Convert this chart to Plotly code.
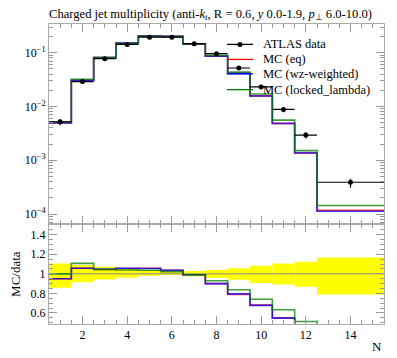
import plotly.graph_objects as go

# ---- data ----
edges = [0.5, 1.5, 2.5, 3.5, 4.5, 5.5, 6.5, 7.5, 8.5, 9.5, 10.5, 11.5, 12.5, 15.5]
centers = [1, 2, 3, 4, 5, 6, 7, 8, 9, 10, 11, 12, 14]
data = [0.0052, 0.029, 0.0774, 0.1426, 0.194, 0.194, 0.147, 0.0958, 0.0519, 0.0231, 0.0088, 0.00294, 0.00039]
band_up = [1.107, 1.09, 1.073, 1.057, 1.037, 1.023, 1.03, 1.04, 1.057, 1.083, 1.107, 1.123, 1.167]
band_lo = [0.857, 0.913, 0.943, 0.963, 0.98, 0.987, 0.976, 0.957, 0.94, 0.907, 0.89, 0.867, 0.79]
ratio_eq = [0.95, 1.057, 1.045, 1.055, 1.057, 1.037, 0.99, 0.90, 0.79, 0.68, 0.55, 0.46, 0.30]
ratio_wz = [0.95, 1.057, 1.05, 1.057, 1.055, 1.035, 0.99, 0.90, 0.795, 0.677, 0.547, 0.47, 0.29]
ratio_ll = [1.0, 1.107, 1.045, 1.04, 1.037, 1.023, 0.99, 0.93, 0.837, 0.74, 0.633, 0.513, 0.37]
mc_eq = [d * r for d, r in zip(data, ratio_eq)]
mc_wz = [d * r for d, r in zip(data, ratio_wz)]
mc_ll = [d * r for d, r in zip(data, ratio_ll)]
names = ["ATLAS data", "MC (eq)", "MC (wz-weighted)", "MC (locked_lambda)"]
colors = ["#ff0000", "#0000ff", "#008000"]

FONT = "Liberation Serif"

# page body has an 8px margin: compensate so the plot lands where the reference has it
OFF = 8
W, H = 397 - OFF, 358 - OFF
MAIN_DOM = [0.3324, 1]

xerr_plus = [e - c for e, c in zip(edges[1:], centers)]
xerr_minus = [c - e for e, c in zip(edges[:-1], centers)]
err_up = [d * (u - 1) for d, u in zip(data, band_up)]
err_lo = [d * (1 - l) for d, l in zip(data, band_lo)]

fig = go.Figure()

# ratio band
fig.add_trace(go.Bar(x=centers, y=[u - l for u, l in zip(band_up, band_lo)], base=band_lo,
                     width=[b - a for a, b in zip(edges[:-1], edges[1:])],
                     marker=dict(color="#ffff00", line=dict(width=0)),
                     showlegend=False, xaxis="x2", yaxis="y2", hoverinfo="skip"))
fig.add_trace(go.Scatter(x=[edges[0], edges[-1]], y=[1, 1], mode="lines",
                         line=dict(color="#888888", width=1), showlegend=False,
                         xaxis="x2", yaxis="y2"))

def step(vals):
    return list(vals) + [vals[-1]]

for mc, r, c in zip([mc_eq, mc_wz, mc_ll], [ratio_eq, ratio_wz, ratio_ll], colors):
    fig.add_trace(go.Scatter(x=edges, y=step(mc), mode="lines", line_shape="hv",
                             line=dict(color=c, width=1.6), opacity=0.75, showlegend=False,
                             xaxis="x", yaxis="y"))
    fig.add_trace(go.Scatter(x=edges, y=step(r), mode="lines", line_shape="hv",
                             line=dict(color=c, width=1.6), opacity=0.75, showlegend=False,
                             xaxis="x2", yaxis="y2"))

# data
fig.add_trace(go.Scatter(x=centers, y=data, mode="markers",
                         marker=dict(color="black", size=5),
                         error_x=dict(type="data", array=xerr_plus, arrayminus=xerr_minus,
                                      color="black", thickness=1.2, width=0),
                         error_y=dict(type="data", array=err_up, arrayminus=err_lo,
                                      color="black", thickness=1.2, width=0),
                         showlegend=False, xaxis="x", yaxis="y"))

# legend (built by hand for tight row spacing)
leg_x0, leg_x1, leg_tx = 0.531, 0.609, 0.633
leg_rows = [0.932, 0.882, 0.834, 0.781]
shapes = []
annotations = []
leg_colors = ["black"] + colors
for name, col, yy in zip(names, leg_colors, leg_rows):
    shapes.append(dict(type="line", xref="paper", yref="paper", x0=leg_x0, x1=leg_x1,
                       y0=yy, y1=yy, line=dict(color=col, width=1.3)))
    annotations.append(dict(text=name, x=leg_tx, y=yy, xref="paper", yref="paper",
                            xanchor="left", yanchor="middle", showarrow=False,
                            font=dict(family=FONT, size=12.5, color="black")))
# the data-marker dot of the legend, on a hidden axis that overlays the main panel
dot_y = (leg_rows[0] - MAIN_DOM[0]) / (MAIN_DOM[1] - MAIN_DOM[0])
fig.add_trace(go.Scatter(x=[(leg_x0 + leg_x1) / 2], y=[dot_y], mode="markers",
                         marker=dict(color="black", size=5), xaxis="x3", yaxis="y3",
                         showlegend=False, hoverinfo="skip"))

annotations.append(dict(text="N", x=1, xref="paper", xanchor="right", y=-0.075, yref="paper",
                        yanchor="middle", showarrow=False, font=dict(family=FONT, size=13)))

major_y = [1e-4, 1e-3, 1e-2, 1e-1]
major_y_text = ["10<sup>−4</sup>", "10<sup>−3</sup>", "10<sup>−2</sup>", "10<sup>−1</sup>"]
minor_y = [m * 10 ** e for e in range(-5, 0) for m in range(2, 10)]

axcol = "#aaaaaa"
tickcol = "#999999"
common_x = dict(range=[0.5, 15.5], dtick=2, tick0=0, ticks="inside", ticklen=8, tickcolor=tickcol,
                showline=True, linecolor=axcol, linewidth=1, mirror="allticks", showgrid=False,
                zeroline=False,
                minor=dict(dtick=0.5, tick0=0, ticks="inside", ticklen=4, tickcolor=tickcol, showgrid=False))

fig.update_layout(
    width=W, height=H,
    margin=dict(l=49 - OFF, r=13, t=23.5 - OFF, b=33.7, autoexpand=False),
    paper_bgcolor="white", plot_bgcolor="white",
    font=dict(family=FONT, size=12, color="black"),
    showlegend=False,
    barmode="overlay",
    title=dict(text="Charged jet multiplicity (anti-<i>k</i><sub><i>t</i></sub>, R = 0.6, <i>y</i> 0.0-1.9, <i>p</i><sub>⊥</sub> 6.0-10.0)",
               x=0, xref="paper", xanchor="left", y=1, yref="container", yanchor="top",
               pad=dict(t=1), font=dict(family=FONT, size=12.6)),
    xaxis=dict(common_x, anchor="y", showticklabels=False, matches="x2"),
    xaxis2=dict(common_x, anchor="y2", showticklabels=True, tickfont=dict(size=12)),
    xaxis3=dict(range=[0, 1], visible=False, anchor="y3", overlaying="x"),
    yaxis3=dict(range=[0, 1], visible=False, anchor="x3", overlaying="y"),
    yaxis=dict(type="log", domain=MAIN_DOM, range=[-4.19, -0.467], anchor="x",
               tickvals=major_y, ticktext=major_y_text, ticks="inside", ticklen=8, tickcolor=tickcol,
               showline=True, linecolor=axcol, mirror="allticks", showgrid=False, zeroline=False,
               tickfont=dict(size=12),
               minor=dict(tickvals=minor_y, ticks="inside", ticklen=4, tickcolor=tickcol, showgrid=False)),
    yaxis2=dict(domain=[0, MAIN_DOM[0]], range=[0.487, 1.507], anchor="x2",
                tickvals=[0.6, 0.8, 1.0, 1.2, 1.4], ticktext=["0.6", "0.8", "1", "1.2", "1.4"],
                ticks="inside", ticklen=8, tickcolor=tickcol,
                showline=True, linecolor=axcol, mirror="allticks", showgrid=False, zeroline=False,
                tickfont=dict(size=12),
                title=dict(text="MC/data", font=dict(size=13), standoff=8),
                minor=dict(dtick=0.05, tick0=0, ticks="inside", ticklen=4, tickcolor=tickcol, showgrid=False)),
    shapes=shapes,
    annotations=annotations,
)

fig.write_html("out.html")
